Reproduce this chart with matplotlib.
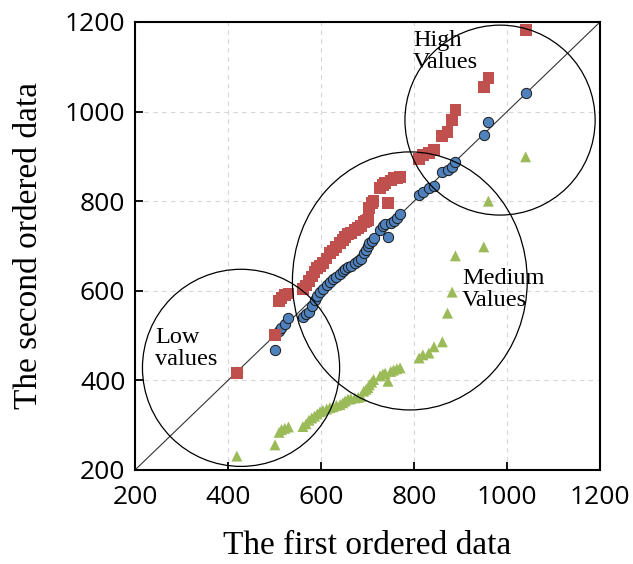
import matplotlib.pyplot as plt
from matplotlib.patches import Ellipse

# first ordered data (shared x for the three series)
first = [419, 501, 510, 515, 522, 530, 561, 568, 574, 580, 586, 592, 598, 604,
         612, 619, 626, 633, 641, 647, 652, 658, 664, 673, 680, 686, 692, 697,
         701, 704, 709, 713, 727, 733, 738, 744, 750, 756, 763, 770, 811, 819,
         832, 843, 861, 872, 882, 889, 950, 960, 1040]

# second ordered data, one list per series
blue = [419, 468, 510, 518, 526, 540, 542, 548, 552, 566, 580, 588, 597, 605,
        612, 620, 626, 630, 638, 644, 648, 654, 656, 662, 667, 672, 684, 690,
        700, 706, 712, 718, 736, 744, 748, 720, 752, 756, 762, 772, 814, 821,
        829, 834, 865, 869, 876, 887, 948, 977, 1041]

red = [417, 501, 578, 584, 590, 594, 604, 612, 622, 632, 642, 650, 656, 662,
       672, 684, 690, 698, 706, 713, 720, 726, 729, 736, 740, 744, 754, 756,
       758, 785, 796, 800, 829, 836, 840, 796, 846, 851, 852, 854, 895, 903,
       908, 914, 945, 955, 981, 1004, 1055, 1075, 1182]

green = [231, 256, 284, 290, 293, 296, 297, 303, 311, 316, 320, 325, 330, 333,
         336, 339, 341, 344, 346, 350, 354, 358, 359, 361, 362, 364, 376, 380,
         384, 390, 396, 402, 410, 414, 416, 398, 420, 423, 426, 428, 450, 457,
         461, 475, 486, 550, 597, 678, 698, 800, 899]

ticks = [200, 400, 600, 800, 1000, 1200]

serif = 'Liberation Serif'

fig = plt.figure(figsize=(6.33, 5.64), dpi=100)
ax = fig.add_axes([0.2133, 0.1667, 0.7346, 0.7943])

ax.plot([200, 1200], [200, 1200], color='#333333', lw=0.8, zorder=2)

ax.scatter(first, blue, marker='o', s=55, color='#4F81BD',
           edgecolors='#1a1a1a', linewidths=0.7, zorder=3)
ax.scatter(first, green, marker='^', s=62, color='#9BBB59',
           edgecolors='none', zorder=3)
ax.scatter(first, red, marker='s', s=72, color='#C0504D',
           edgecolors='none', zorder=4)

# grouping circles
for c, w, h in [((428, 428), 424, 440), ((791, 622), 505, 576),
                ((985, 981), 409, 424)]:
    ax.add_patch(Ellipse(c, w, h, fill=False, edgecolor='black', lw=0.9, zorder=5))

ax.text(243, 472, 'Low\nvalues', family=serif, fontsize=17.5, ha='left',
        va='center', linespacing=1.05, zorder=6)
ax.text(903, 602, 'Medium\nValues', family=serif, fontsize=17.5, ha='left',
        va='center', linespacing=1.05, zorder=6)
ax.text(798, 1135, 'High\nValues', family=serif, fontsize=17.5, ha='left',
        va='center', linespacing=1.05, zorder=6)

ax.set_xlim(200, 1200)
ax.set_ylim(200, 1200)
ax.set_xticks(ticks)
ax.set_yticks(ticks)
for lab in ax.get_xticklabels() + ax.get_yticklabels():
    lab.set_family('Open Sans')
    lab.set_fontsize(19)
ax.tick_params(direction='in', length=6, width=1.3)
ax.tick_params(axis='x', pad=11)
ax.tick_params(axis='y', pad=7)
ax.grid(True, linestyle=(0, (4, 4)), color='#d6d6d6', lw=0.8, zorder=0)
ax.set_axisbelow(True)
for sp in ax.spines.values():
    sp.set_linewidth(1.5)

ax.set_xlabel('The first ordered data', family=serif, fontsize=24)
ax.set_ylabel('The second ordered data', family=serif, fontsize=24)
ax.xaxis.set_label_coords(0.5, -0.136)
ax.yaxis.set_label_coords(-0.196, 0.5)

fig.savefig('out.png', dpi=100)
